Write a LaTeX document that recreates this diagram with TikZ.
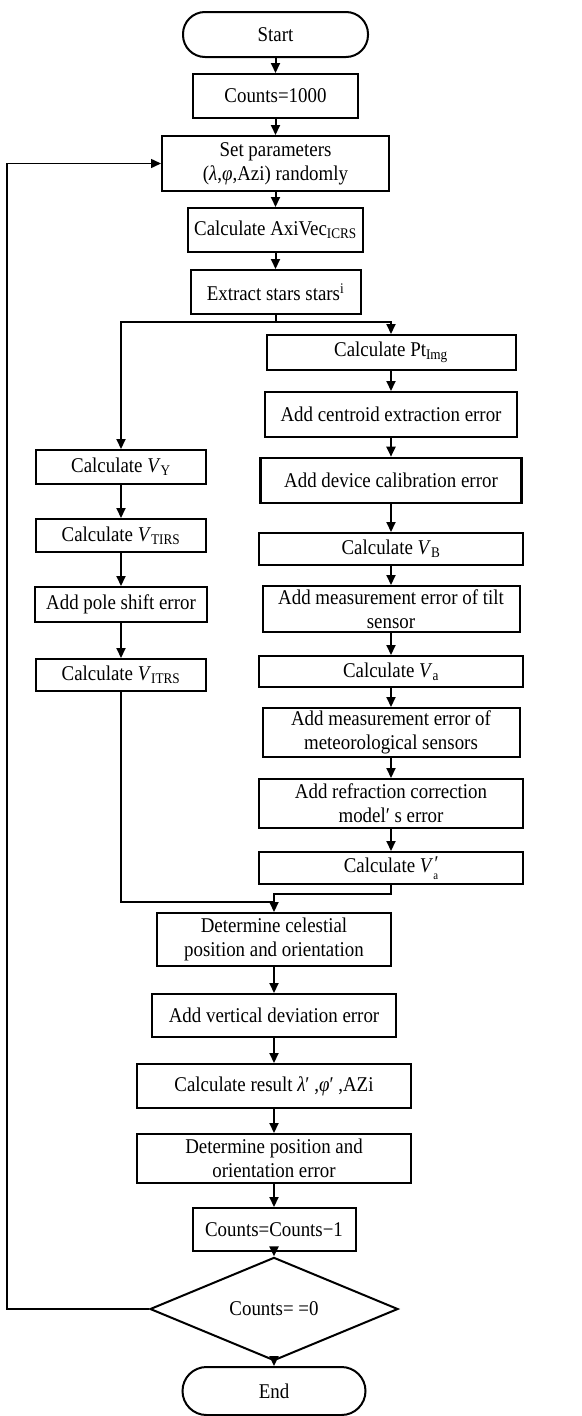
\documentclass[tikz,border=0pt]{standalone}
\usepackage{fontspec}
\setmainfont{Liberation Serif}[FakeStretch=0.9]
\usetikzlibrary{shapes.geometric,arrows.meta}
\begin{document}
\begin{tikzpicture}[x=1pt,y=1pt,
  box/.style={draw,line width=2pt,inner sep=0pt,align=center,font=\fontsize{21}{24}\selectfont},
  term/.style={box,rounded corners=22pt},
  dec/.style={box,shape=diamond},
  arr/.style={line width=2pt,-{Triangle[length=10pt,width=9pt]}},
  ln/.style={line width=2pt}]
\useasboundingbox (0,0) rectangle (581,-1416);
% main top column
\node[term,minimum width=185pt,minimum height=45pt] (start) at (275.5,-34.5) {Start};
\node[box,minimum width=165pt,minimum height=44pt] (c1000) at (275.5,-96) {Counts=1000};
\node[box,minimum width=227pt,minimum height=55pt] (setp) at (275.5,-163.5) {Set parameters\\(\textit{λ},\textit{φ},Azi) randomly};
\node[box,minimum width=175pt,minimum height=44pt] (axivec) at (275.5,-230) {Calculate AxiVec\textsubscript{ICRS}};
\node[box,minimum width=170pt,minimum height=44pt] (extract) at (275.5,-292) {Extract stars stars\textsuperscript{i}};
% right column
\node[box,minimum width=249pt,minimum height=35pt] (pt) at (391,-352.5) {Calculate Pt\textsubscript{Img}};
\node[box,minimum width=252pt,minimum height=45pt] (centroid) at (391,-414.5) {Add centroid extraction error};
\node[box,minimum width=261pt,minimum height=45pt,line width=2.6pt] (device) at (391,-480.5) {Add device calibration error};
\node[box,minimum width=264pt,minimum height=32pt] (vb) at (391,-549) {Calculate \textit{V}\textsubscript{B}};
\node[box,minimum width=257pt,minimum height=46pt] (tilt) at (391,-609) {Add measurement error of tilt\\sensor};
\node[box,minimum width=264pt,minimum height=31pt] (va) at (391,-671.5) {Calculate \textit{V}\textsubscript{a}};
\node[box,minimum width=257pt,minimum height=49pt] (meteor) at (391,-732.5) {Add measurement error of\\meteorological sensors};
\node[box,minimum width=264pt,minimum height=49pt] (refr) at (391,-803.5) {Add refraction correction\\model′ s error};
\node[box,minimum width=264pt,minimum height=32pt] (vap) at (391,-868) {Calculate \textit{V}\rlap{\raisebox{0.12em}{\textit{′}}}\raisebox{-0.3em}{\fontsize{12}{12}\selectfont a}};
% left column
\node[box,minimum width=170pt,minimum height=34pt] (vy) at (121,-467) {Calculate \textit{V}\textsubscript{Y}};
\node[box,minimum width=170pt,minimum height=33pt] (vtirs) at (121,-535.5) {Calculate \textit{V}\textsubscript{TIRS}};
\node[box,minimum width=172pt,minimum height=35pt] (pole) at (121,-604.5) {Add pole shift error};
\node[box,minimum width=170pt,minimum height=32pt] (vitrs) at (121,-675) {Calculate \textit{V}\textsubscript{ITRS}};
% bottom column
\node[box,minimum width=234pt,minimum height=53pt] (celes) at (274,-939.5) {Determine celestial\\position and orientation};
\node[box,minimum width=244pt,minimum height=43pt] (vdev) at (274,-1015.5) {Add vertical deviation error};
\node[box,minimum width=274pt,minimum height=44pt] (result) at (274,-1086) {Calculate result \textit{λ}′ ,\textit{φ}′ ,AZi};
\node[box,minimum width=274pt,minimum height=49pt] (detpos) at (274,-1158.5) {Determine position and\\orientation error};
\node[box,minimum width=163pt,minimum height=43pt] (cm1) at (274,-1229.5) {Counts=Counts−1};
\node[dec,minimum width=248pt,minimum height=66pt] (dia) at (274,-1309) {Counts= =0};
\node[term,minimum width=183pt,minimum height=48pt,rounded corners=24pt] (end) at (274,-1391) {End};
% helper coordinates
\coordinate (br) at (275.5,-322);
\coordinate (mr) at (274,-894);
\coordinate (ml) at (274,-902);
\coordinate (lp) at (7,-1309);
% connectors
\draw[arr] (start) -- (c1000);
\draw[arr] (c1000) -- (setp);
\draw[arr] (setp) -- (axivec);
\draw[arr] (axivec) -- (extract);
\draw[ln] (extract.south) -- (br);
\draw[arr] (br) -| (vy.north);
\draw[arr] (br) -| (pt.north);
\draw[arr] (pt) -- (centroid);
\draw[arr] (centroid) -- (device);
\draw[arr] (device) -- (vb);
\draw[arr] (vb) -- (tilt);
\draw[arr] (tilt) -- (va);
\draw[arr] (va) -- (meteor);
\draw[arr] (meteor) -- (refr);
\draw[arr] (refr) -- (vap);
\draw[arr] (vy) -- (vtirs);
\draw[arr] (vtirs) -- (pole);
\draw[arr] (pole) -- (vitrs);
\draw[arr] (vap.south) |- (mr) -- (celes.north);
\draw[ln] (vitrs.south) |- (ml);
\draw[arr] (celes) -- (vdev);
\draw[arr] (vdev) -- (result);
\draw[arr] (result) -- (detpos);
\draw[arr] (detpos) -- (cm1);
\draw[arr] (cm1) -- (dia);
\draw[arr] (dia) -- (end);
\draw[arr,line width=1.5pt] (dia.west) -- (lp) |- (setp.west);
\end{tikzpicture}
\end{document}
